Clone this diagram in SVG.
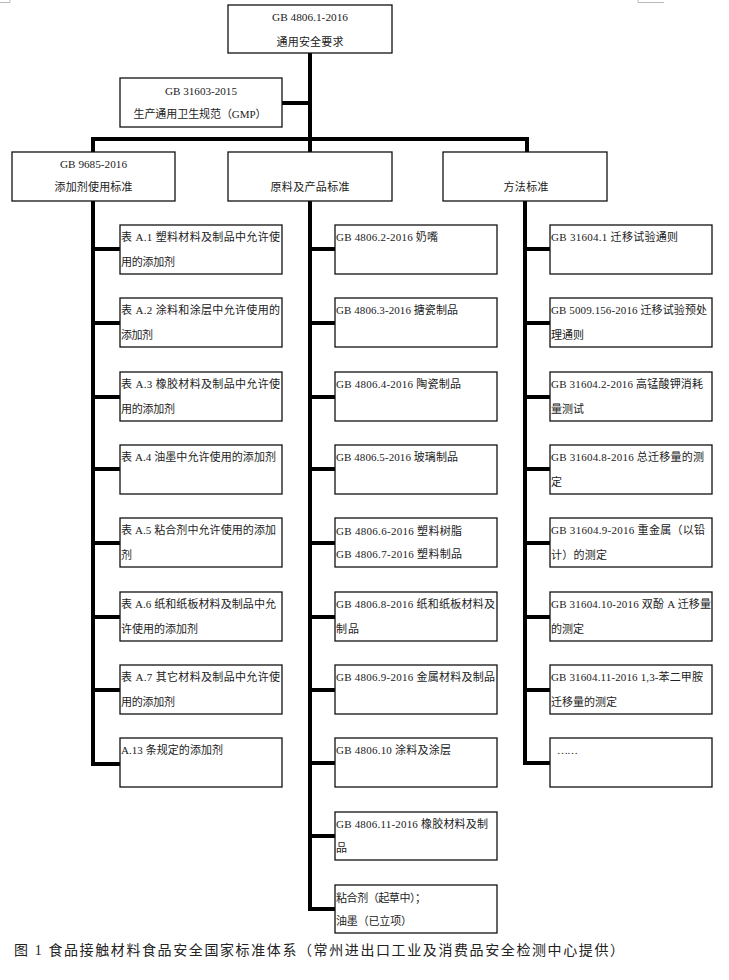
<svg xmlns="http://www.w3.org/2000/svg" width="729" height="980" viewBox="0 0 729 980">
<style>
.bg{fill:#fff}
.box{fill:#fff;stroke:#111;stroke-width:1.3}
.ln{fill:none;stroke:#000;stroke-width:4;stroke-linejoin:miter}
.t{font-family:"Liberation Serif","Noto Sans CJK SC",serif;font-size:11px;fill:#222}
.c{text-anchor:middle}
.cap{font-family:"Liberation Serif","Noto Sans CJK SC",serif;font-size:14px;fill:#222}
.mark{fill:none;stroke:#bbb;stroke-width:1}
</style>
<rect class="bg" x="0" y="0" width="729" height="980"/>
<path class="mark" d="M0 2.5H10V0M638 0V2.5H664"/>
<g id="connectors">
<path class="ln" d="M310 53V152M282 103H310M93 152V139H527V152"/>
<path class="ln" d="M93 201V764H120M93 249H120M93 323H120M93 397H120M93 469H120M93 543H120M93 617H120M93 690H120"/>
<path class="ln" d="M310 201V909H335M310 249H335M310 323H335M310 397H335M310 469H335M310 543H335M310 617H335M310 690H335M310 763H335M310 836H335"/>
<path class="ln" d="M525 201V763H550M525 249H550M525 323H550M525 397H550M525 469H550M525 543H550M525 617H550M525 690H550"/>
</g>
<g id="n-root"><rect class="box" x="228" y="5" width="164" height="48"/>
<text class="t c" x="310" y="21" textLength="76" lengthAdjust="spacingAndGlyphs">GB 4806.1-2016</text>
<text class="t c" x="310" y="46" textLength="67" lengthAdjust="spacing">通用安全要求</text></g>
<g id="n-gmp"><rect class="box" x="120" y="78" width="162" height="49"/>
<text class="t c" x="201" y="95" textLength="72" lengthAdjust="spacingAndGlyphs">GB 31603-2015</text>
<text class="t c" x="200" y="118" textLength="133" lengthAdjust="spacing">生产通用卫生规范（GMP）</text></g>
<g id="n-additive"><rect class="box" x="12" y="152" width="163" height="49"/>
<text class="t c" x="93.5" y="168" textLength="67" lengthAdjust="spacingAndGlyphs">GB 9685-2016</text>
<text class="t c" x="93.5" y="191" textLength="78" lengthAdjust="spacing">添加剂使用标准</text></g>
<g id="n-material"><rect class="box" x="228" y="152" width="164" height="49"/>
<text class="t c" x="310" y="191" textLength="79" lengthAdjust="spacing">原料及产品标准</text></g>
<g id="n-method"><rect class="box" x="443" y="152" width="164" height="49"/>
<text class="t c" x="526" y="191" textLength="45" lengthAdjust="spacing">方法标准</text></g>

<g id="n-a1"><rect class="box" x="120" y="225" width="162" height="49"/>
<text class="t" x="121" y="241" textLength="159" lengthAdjust="spacing">表 A.1  塑料材料及制品中允许使</text>
<text class="t" x="121" y="266" textLength="54" lengthAdjust="spacing">用的添加剂</text></g>
<g id="n-a2"><rect class="box" x="120" y="298" width="162" height="49"/>
<text class="t" x="121" y="314" textLength="159" lengthAdjust="spacing">表 A.2  涂料和涂层中允许使用的</text>
<text class="t" x="121" y="339" textLength="32" lengthAdjust="spacing">添加剂</text></g>
<g id="n-a3"><rect class="box" x="120" y="372" width="162" height="49"/>
<text class="t" x="121" y="388" textLength="159" lengthAdjust="spacing">表 A.3  橡胶材料及制品中允许使</text>
<text class="t" x="121" y="413" textLength="54" lengthAdjust="spacing">用的添加剂</text></g>
<g id="n-a4"><rect class="box" x="120" y="445" width="162" height="49"/>
<text class="t" x="121" y="461" textLength="155" lengthAdjust="spacing">表 A.4 油墨中允许使用的添加剂</text></g>
<g id="n-a5"><rect class="box" x="120" y="518" width="162" height="49"/>
<text class="t" x="121" y="534" textLength="155" lengthAdjust="spacing">表 A.5 粘合剂中允许使用的添加</text>
<text class="t" x="121" y="559">剂</text></g>
<g id="n-a6"><rect class="box" x="120" y="592" width="162" height="49"/>
<text class="t" x="121" y="608" textLength="155" lengthAdjust="spacing">表 A.6 纸和纸板材料及制品中允</text>
<text class="t" x="121" y="633" textLength="77" lengthAdjust="spacing">许使用的添加剂</text></g>
<g id="n-a7"><rect class="box" x="120" y="665" width="162" height="49"/>
<text class="t" x="121" y="681" textLength="159" lengthAdjust="spacing">表 A.7  其它材料及制品中允许使</text>
<text class="t" x="121" y="706" textLength="54" lengthAdjust="spacing">用的添加剂</text></g>
<g id="n-a13"><rect class="box" x="120" y="738" width="162" height="49"/>
<text class="t" x="121" y="754" textLength="102" lengthAdjust="spacing">A.13 条规定的添加剂</text></g>

<g id="n-m2"><rect class="box" x="335" y="225" width="162" height="49"/>
<text class="t" x="336" y="241" textLength="102" lengthAdjust="spacing">GB 4806.2-2016  奶嘴</text></g>
<g id="n-m3"><rect class="box" x="335" y="298" width="162" height="49"/>
<text class="t" x="336" y="314" textLength="122" lengthAdjust="spacing">GB 4806.3-2016 搪瓷制品</text></g>
<g id="n-m4"><rect class="box" x="335" y="372" width="162" height="49"/>
<text class="t" x="336" y="388" textLength="125" lengthAdjust="spacing">GB 4806.4-2016  陶瓷制品</text></g>
<g id="n-m5"><rect class="box" x="335" y="445" width="162" height="49"/>
<text class="t" x="336" y="461" textLength="122" lengthAdjust="spacing">GB 4806.5-2016 玻璃制品</text></g>
<g id="n-m6"><rect class="box" x="335" y="518" width="162" height="49"/>
<text class="t" x="336" y="535" textLength="126" lengthAdjust="spacing">GB 4806.6-2016  塑料树脂</text>
<text class="t" x="336" y="558" textLength="126" lengthAdjust="spacing">GB 4806.7-2016  塑料制品</text></g>
<g id="n-m8"><rect class="box" x="335" y="592" width="162" height="49"/>
<text class="t" x="336" y="608" textLength="159" lengthAdjust="spacing">GB 4806.8-2016  纸和纸板材料及</text>
<text class="t" x="336" y="633" textLength="23" lengthAdjust="spacing">制品</text></g>
<g id="n-m9"><rect class="box" x="335" y="665" width="162" height="49"/>
<text class="t" x="336" y="681" textLength="159" lengthAdjust="spacing">GB 4806.9-2016  金属材料及制品</text></g>
<g id="n-m10"><rect class="box" x="335" y="738" width="162" height="49"/>
<text class="t" x="336" y="754" textLength="115" lengthAdjust="spacing">GB 4806.10  涂料及涂层</text></g>
<g id="n-m11"><rect class="box" x="335" y="812" width="162" height="48"/>
<text class="t" x="336" y="828" textLength="152" lengthAdjust="spacing">GB 4806.11-2016  橡胶材料及制</text>
<text class="t" x="336" y="852">品</text></g>
<g id="n-m12"><rect class="box" x="335" y="885" width="162" height="48"/>
<text class="t" x="336" y="902" textLength="90" lengthAdjust="spacing">粘合剂（起草中）；</text>
<text class="t" x="336" y="925" textLength="76" lengthAdjust="spacing">油墨（已立项）</text></g>

<g id="n-r1"><rect class="box" x="550" y="225" width="162" height="49"/>
<text class="t" x="551" y="241" textLength="127" lengthAdjust="spacing">GB 31604.1   迁移试验通则</text></g>
<g id="n-r2"><rect class="box" x="550" y="298" width="162" height="49"/>
<text class="t" x="551" y="314" textLength="156" lengthAdjust="spacing">GB 5009.156-2016 迁移试验预处</text>
<text class="t" x="551" y="339" textLength="33" lengthAdjust="spacing">理通则</text></g>
<g id="n-r3"><rect class="box" x="550" y="372" width="162" height="49"/>
<text class="t" x="551" y="388" textLength="152" lengthAdjust="spacing">GB 31604.2-2016  高锰酸钾消耗</text>
<text class="t" x="551" y="413" textLength="33" lengthAdjust="spacing">量测试</text></g>
<g id="n-r4"><rect class="box" x="550" y="445" width="162" height="49"/>
<text class="t" x="551" y="461" textLength="153" lengthAdjust="spacing">GB 31604.8-2016  总迁移量的测</text>
<text class="t" x="551" y="486">定</text></g>
<g id="n-r5"><rect class="box" x="550" y="518" width="162" height="49"/>
<text class="t" x="551" y="534" textLength="154" lengthAdjust="spacing">GB 31604.9-2016  重金属（以铅</text>
<text class="t" x="551" y="559" textLength="56" lengthAdjust="spacing">计）的测定</text></g>
<g id="n-r6"><rect class="box" x="550" y="592" width="162" height="49"/>
<text class="t" x="551" y="608" textLength="160" lengthAdjust="spacing">GB 31604.10-2016  双酚 A 迁移量</text>
<text class="t" x="551" y="633" textLength="33" lengthAdjust="spacing">的测定</text></g>
<g id="n-r7"><rect class="box" x="550" y="665" width="162" height="49"/>
<text class="t" x="551" y="681" textLength="152" lengthAdjust="spacing">GB 31604.11-2016 1,3-苯二甲胺</text>
<text class="t" x="551" y="706" textLength="66" lengthAdjust="spacing">迁移量的测定</text></g>
<g id="n-r8"><rect class="box" x="550" y="738" width="162" height="49"/>
<text class="t" x="557" y="754" textLength="21" lengthAdjust="spacing">……</text></g>

<text class="cap" x="14" y="955" textLength="610" lengthAdjust="spacing">图 1 食品接触材料食品安全国家标准体系（常州进出口工业及消费品安全检测中心提供）</text>
</svg>
